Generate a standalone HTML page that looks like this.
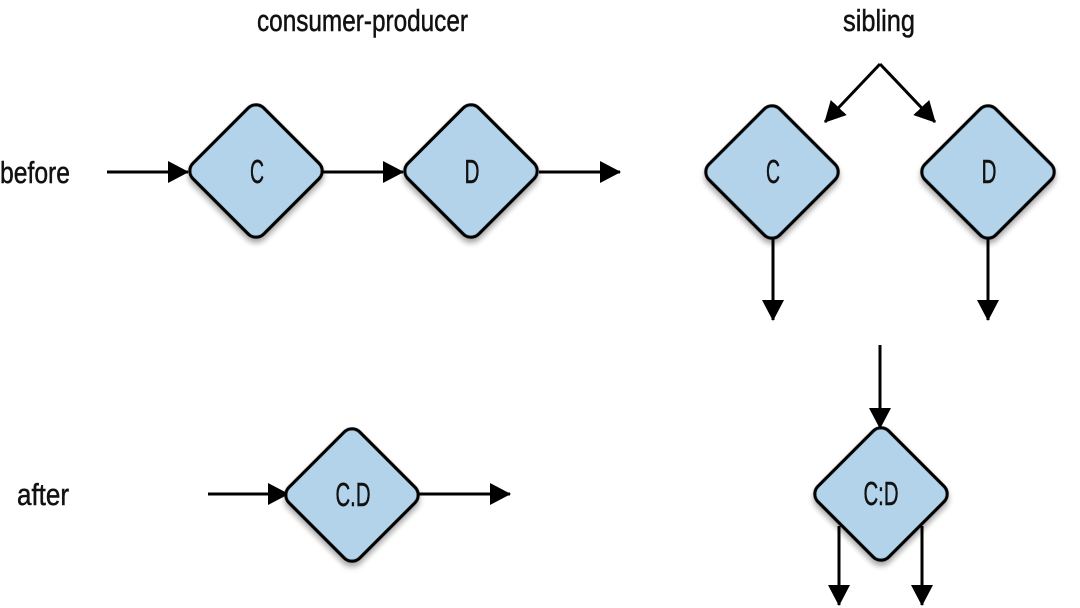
<!DOCTYPE html>
<html><head><meta charset="utf-8"><style>
html,body{margin:0;padding:0;background:#fff;}
svg{display:block;}
text{font-family:"Liberation Sans Narrow","Liberation Sans",sans-serif;fill:#111;stroke:#111;stroke-width:0.5px;}
.lb{font-size:31px;}
.nd{font-size:33px;text-anchor:middle;}
</style></head><body>
<svg width="1080" height="608" viewBox="0 0 1080 608" xmlns="http://www.w3.org/2000/svg">
<defs>
<marker id="ah" markerWidth="22" markerHeight="22" refX="20" refY="11" orient="auto" markerUnits="userSpaceOnUse">
<path d="M0,0 L21,11 L0,22 Z" fill="#000"/>
</marker>
<filter id="sh" x="-30%" y="-30%" width="160%" height="160%">
<feGaussianBlur in="SourceAlpha" stdDeviation="3"/>
<feOffset dx="3" dy="3" result="b"/>
<feComponentTransfer><feFuncA type="linear" slope="0.35"/></feComponentTransfer>
<feMerge><feMergeNode/><feMergeNode in="SourceGraphic"/></feMerge>
</filter>
<g id="dm"><rect x="-50" y="-50" width="100" height="100" rx="11" transform="rotate(45)" fill="#b3d3ea" stroke="#000" stroke-width="3.2" filter="url(#sh)"/></g>
</defs>

<text class="lb" x="257" y="31" textLength="211" lengthAdjust="spacingAndGlyphs">consumer-producer</text>
<text class="lb" x="843" y="31" textLength="72" lengthAdjust="spacingAndGlyphs">sibling</text>
<text class="lb" x="0" y="183" textLength="70" lengthAdjust="spacingAndGlyphs">before</text>
<text class="lb" x="17" y="505" textLength="52" lengthAdjust="spacingAndGlyphs">after</text>

<g stroke="#000" stroke-width="3" fill="none">
<line x1="107" y1="172" x2="188" y2="172" marker-end="url(#ah)"/>
<line x1="323" y1="172" x2="403" y2="172" marker-end="url(#ah)"/>
<line x1="539" y1="172" x2="620" y2="172" marker-end="url(#ah)"/>
<line x1="880" y1="64" x2="825" y2="122" marker-end="url(#ah)"/>
<line x1="880" y1="64" x2="935" y2="122" marker-end="url(#ah)"/>
<line x1="773" y1="238" x2="773" y2="320" marker-end="url(#ah)"/>
<line x1="988" y1="238" x2="988" y2="320" marker-end="url(#ah)"/>
<line x1="208" y1="494" x2="288" y2="494" marker-end="url(#ah)"/>
<line x1="417" y1="494" x2="510" y2="494" marker-end="url(#ah)"/>
<line x1="880" y1="345" x2="880" y2="428" marker-end="url(#ah)"/>
<line x1="839" y1="526" x2="839" y2="605" marker-end="url(#ah)"/>
<line x1="922" y1="526" x2="922" y2="605" marker-end="url(#ah)"/>
</g>

<use href="#dm" x="256" y="171"/>
<use href="#dm" x="471" y="171"/>
<use href="#dm" x="772" y="172"/>
<use href="#dm" x="988" y="172"/>
<use href="#dm" x="352" y="495"/>
<use href="#dm" x="881" y="494"/>

<text class="nd" x="257" y="183" textLength="14" lengthAdjust="spacingAndGlyphs">C</text>
<text class="nd" x="472" y="183" textLength="15" lengthAdjust="spacingAndGlyphs">D</text>
<text class="nd" x="773" y="183" textLength="14" lengthAdjust="spacingAndGlyphs">C</text>
<text class="nd" x="989" y="183" textLength="15" lengthAdjust="spacingAndGlyphs">D</text>
<text class="nd" x="353" y="506" textLength="35" lengthAdjust="spacingAndGlyphs">C.D</text>
<text class="nd" x="881" y="505" textLength="35" lengthAdjust="spacingAndGlyphs">C:D</text>
</svg>
</body></html>
